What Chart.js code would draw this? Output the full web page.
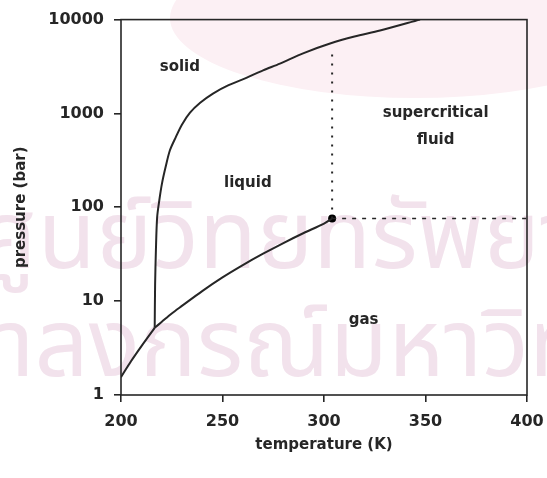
<!DOCTYPE html>
<html>
<head>
<meta charset="utf-8">
<script src="https://cdn.jsdelivr.net/npm/chart.js@4.4.1/dist/chart.umd.min.js"></script>
<style>
  body { margin: 0; background: #fff; }
  #wrap { width: 547px; height: 478px; }
</style>
</head>
<body>
<div id="wrap"><canvas id="phaseChart" width="547" height="478"></canvas></div>
<script>
// CO2 phase diagram
const sublimationT = [200, 205, 210, 216.6];
const sublimationP = [1.55, 2.3, 3.3, 5.2];

const vaporT = [216.6, 220, 225, 230, 240, 250, 260, 270, 280, 290, 300, 304];
const vaporP = [5.2, 6.0, 7.4, 8.9, 12.8, 17.9, 24.2, 32.0, 41.6, 53.2, 67.1, 76];

const meltingT = [216.6, 216.8, 217.2, 217.8, 218.9, 220.2, 222, 224.1, 227, 230, 234, 239, 245.3, 253, 262, 270, 278.3, 290, 303, 315, 327.6, 347.3];
const meltingP = [5.2, 15, 35, 78, 120, 180, 270, 405, 560, 760, 1020, 1300, 1630, 2000, 2410, 2880, 3400, 4400, 5560, 6600, 7640, 10000];

const criticalT = 304;
const criticalP = 76;
const supercriticalTopP = 5000;
const maxT = 400;

const xTicks = [200, 250, 300, 350, 400];
const yTicks = [1, 10, 100, 1000, 10000];

// region names, placed in data units
const regionNames = ['solid', 'supercritical', 'fluid', 'liquid', 'gas'];
const regionT = [229, 355, 355, 262.5, 319.5];
const regionP = [3100, 1000, 520, 180, 6.3];

function toPoints(xs, ys) {
  return xs.map(function (x, i) { return {x: x, y: ys[i]}; });
}

const ink = '#262626';
const font = "'DejaVu Sans', sans-serif";

// faint pink watermark behind the chart
const watermark = {
  id: 'watermark',
  beforeDraw: function (chart) {
    const c = chart.ctx;
    c.save();
    c.fillStyle = '#fcf0f4';
    c.beginPath();
    c.ellipse(415, 18, 245, 80, 0, 0, Math.PI * 2);
    c.fill();
    c.fillStyle = '#f2e2ec';
    c.font = "95px 'Noto Sans Thai', 'Noto Sans', sans-serif";
    c.textBaseline = 'alphabetic';
    c.fillText('ศูนย์วิทยทรัพยากร', -22, 268);
    const lead = c.measureText('จุฬ').width;
    c.fillText('จุฬาลงกรณ์มหาวิทยาลัย', -4 - lead, 376);
    c.restore();
  }
};

// box around the plot and the region names
const frameAndNames = {
  id: 'frameAndNames',
  afterDatasetsDraw: function (chart) {
    const c = chart.ctx;
    const a = chart.chartArea;
    const xs = chart.scales.x;
    const ys = chart.scales.y;
    c.save();
    c.strokeStyle = ink;
    c.lineWidth = 1.6;
    c.strokeRect(a.left, a.top, a.right - a.left, a.bottom - a.top);
    c.fillStyle = ink;
    c.font = 'bold 15px ' + font;
    c.textAlign = 'center';
    c.textBaseline = 'middle';
    regionNames.forEach(function (name, i) {
      c.fillText(name, xs.getPixelForValue(regionT[i]), ys.getPixelForValue(regionP[i]));
    });
    c.restore();
  }
};

const ctx = document.getElementById('phaseChart');

new Chart(ctx, {
  type: 'scatter',
  data: {
    datasets: [
      {
        label: 'sublimation',
        data: toPoints(sublimationT, sublimationP),
        showLine: true, borderColor: ink, borderWidth: 2, pointRadius: 0, tension: 0.3
      },
      {
        label: 'vaporization',
        data: toPoints(vaporT, vaporP),
        showLine: true, borderColor: ink, borderWidth: 2, pointRadius: 0, tension: 0.3
      },
      {
        label: 'melting',
        data: toPoints(meltingT, meltingP),
        showLine: true, borderColor: ink, borderWidth: 2, pointRadius: 0, tension: 0.3
      },
      {
        label: 'critical isotherm',
        data: toPoints([criticalT, criticalT], [criticalP, supercriticalTopP]),
        showLine: true, borderColor: ink, borderWidth: 2, borderDash: [2, 7], pointRadius: 0
      },
      {
        label: 'critical isobar',
        data: toPoints([criticalT, maxT], [criticalP, criticalP]),
        showLine: true, borderColor: ink, borderWidth: 1.6, borderDash: [4, 6], pointRadius: 0
      },
      {
        label: 'critical point',
        data: toPoints([criticalT], [criticalP]),
        pointRadius: 4, pointBackgroundColor: '#000', pointBorderWidth: 0
      }
    ]
  },
  options: {
    responsive: false,
    animation: false,
    layout: { padding: { top: 19, right: 20, left: 8, bottom: 20 } },
    plugins: {
      legend: { display: false },
      tooltip: { enabled: false }
    },
    scales: {
      x: {
        type: 'linear',
        min: 200,
        max: 400,
        afterBuildTicks: function (s) { s.ticks = xTicks.map(function (v) { return {value: v}; }); },
        afterFit: function (s) { s.height = 63; s.paddingLeft = 0; s.paddingRight = 0; },
        ticks: { color: ink, font: { family: font, size: 16, weight: 'bold' }, padding: 10, maxRotation: 0 },
        grid: { drawOnChartArea: false, drawTicks: true, tickLength: 7, color: ink, lineWidth: 1.6 },
        border: { display: false },
        title: { display: true, text: 'temperature (K)', color: ink, font: { family: font, size: 15, weight: 'bold' }, padding: { top: 8 } }
      },
      y: {
        type: 'logarithmic',
        min: 1,
        max: 10000,
        afterBuildTicks: function (s) { s.ticks = yTicks.map(function (v) { return {value: v}; }); },
        afterFit: function (s) { s.width = 113; },
        ticks: {
          color: ink, font: { family: font, size: 16, weight: 'bold' }, padding: 10,
          callback: function (v) { return String(v); }
        },
        grid: { drawOnChartArea: false, drawTicks: true, tickLength: 7, color: ink, lineWidth: 1.6 },
        border: { display: false },
        title: { display: true, text: 'pressure (bar)', color: ink, font: { family: font, size: 15, weight: 'bold' }, padding: { bottom: 18 } }
      }
    }
  },
  plugins: [watermark, frameAndNames]
});
</script>
</body>
</html>
